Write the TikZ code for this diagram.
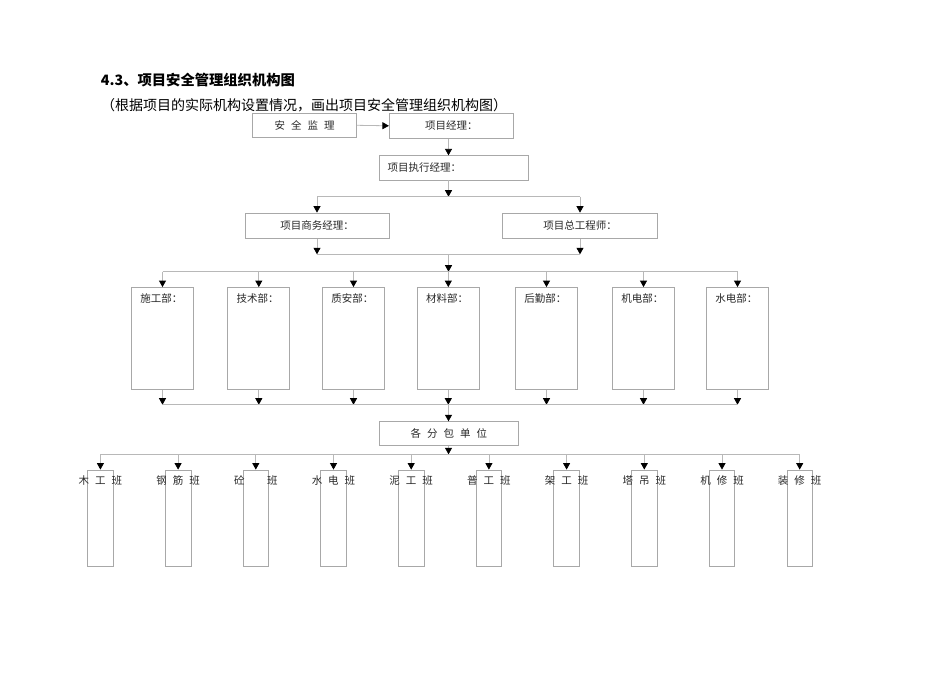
\documentclass[tikz,border=0pt]{standalone}
\usepackage{fontspec}
\setmainfont{Noto Sans CJK SC}
\usetikzlibrary{arrows.meta,calc}
\definecolor{boxgray}{HTML}{A8A8A8}
\definecolor{linegray}{HTML}{B8B8B8}
\definecolor{txt}{HTML}{282828}
\newcommand\gp{\hspace{6pt}}
\begin{document}
\begin{tikzpicture}[x=1pt,y=-1pt,
  box/.style={draw=boxgray, line width=0.8pt, inner sep=0pt, font=\fontsize{10.5}{12}\selectfont, text=txt, text height=0.88em, text depth=0.12em},
  conn/.style={draw=linegray, line width=0.8pt},
  arr/.style={conn, -{Triangle[length=6.5pt,width=7pt,color=black]}},
  lbl/.style={inner sep=0pt, font=\fontsize{10.5}{12}\selectfont, text=txt, text height=0.88em, text depth=0.12em},
  head/.style={anchor=base west, inner sep=0pt, font=\fontsize{14}{16}\selectfont}
]
\useasboundingbox (0,0) rectangle (950,672);
% headings
\node[head, font=\fontsize{14.3}{16}\selectfont\bfseries] (title) at (100.7,85.3) {4.3、项目安全管理组织机构图};
\node[head] (subtitle) at (101,110.3) {（根据项目的实际机构设置情况，画出项目安全管理组织机构图）};
% bus coordinates
\coordinate (sp) at (448.5,0);
\coordinate (b1) at (448.5,196.7);
\coordinate (b2) at (448.5,254.3);
\coordinate (b3) at (448.5,271.7);
\coordinate (b4) at (448.5,404.7);
\coordinate (b5) at (448.5,454.3);
% top boxes
\node[box, minimum width=104pt, minimum height=24pt] (sup) at (304.7,125.3) {安\gp 全\gp 监\gp 理};
\node[box, minimum width=124pt, minimum height=25pt] (pm) at (451.3,125.8) {项目经理：};
\node[box, minimum width=149.4pt, minimum height=24.3pt, text width=133pt, align=left, inner xsep=8pt] (exec) at (454,167.9) {项目执行经理：};
\node[box, minimum width=144pt, minimum height=25.3pt] (biz) at (317,225.7) {项目商务经理：};
\node[box, minimum width=154.6pt, minimum height=25.3pt] (cte) at (580,225.7) {项目总工程师：};
\draw[arr] (sup.east) -- (pm.west);
\draw[arr] (pm.south -| sp) -- (exec.north -| sp);
\draw[arr] (exec.south -| sp) -- (b1);
\draw[conn] (b1 -| biz) -- (b1 -| cte);
\draw[arr] (b1 -| biz) -- (biz.north);
\draw[arr] (b1 -| cte) -- (cte.north);
\draw[arr] (biz.south) -- (b2 -| biz);
\draw[arr] (cte.south) -- (b2 -| cte);
\draw[conn] (b2 -| biz) -- (b2 -| cte);
\draw[arr] (b2) -- (b3);
% departments
\foreach \n/\x/\t in {1/162.5/施工部：,2/258.8/技术部：,3/353.5/质安部：,4/448.3/材料部：,5/546.5/后勤部：,6/643.5/机电部：,7/737.5/水电部：}{
  \node[box, minimum width=62pt, minimum height=102pt] (d\n) at (\x,338.5) {};
  \node[lbl, anchor=west] (dl\n) at ($(d\n.north west)+(9,12)$) {\t};
  \draw[arr] (b3 -| d\n) -- (d\n.north);
  \draw[arr] (d\n.south) -- (b4 -| d\n);
}
\draw[conn] (b3 -| d1) -- (b3 -| d7);
\draw[conn] (b4 -| d1) -- (b4 -| d7);
% subcontractors
\node[box, minimum width=139pt, minimum height=24pt] (subc) at (448.8,433.7) {各\gp 分\gp 包\gp 单\gp 位};
\draw[arr] (b4) -- (subc.north -| sp);
\draw[arr] (subc.south -| sp) -- (b5);
% crews
\foreach \n/\t in {1/{木\gp 工\gp 班},2/{钢\gp 筋\gp 班},3/{砼\gp\phantom{工}\gp 班},4/{水\gp 电\gp 班},5/{泥\gp 工\gp 班},6/{普\gp 工\gp 班},7/{架\gp 工\gp 班},8/{塔\gp 吊\gp 班},9/{机\gp 修\gp 班},10/{装\gp 修\gp 班}}{
  \pgfmathsetmacro\x{100.4+77.7*(\n-1)}
  \node[box, minimum width=25.6pt, minimum height=96pt] (c\n) at (\x,518) {};
  \node[lbl] (cl\n) at (\x,481) {\t};
  \draw[arr] (b5 -| c\n) -- (c\n.north);
}
\draw[conn] (b5 -| c1) -- (b5 -| c10);
\end{tikzpicture}
\end{document}
